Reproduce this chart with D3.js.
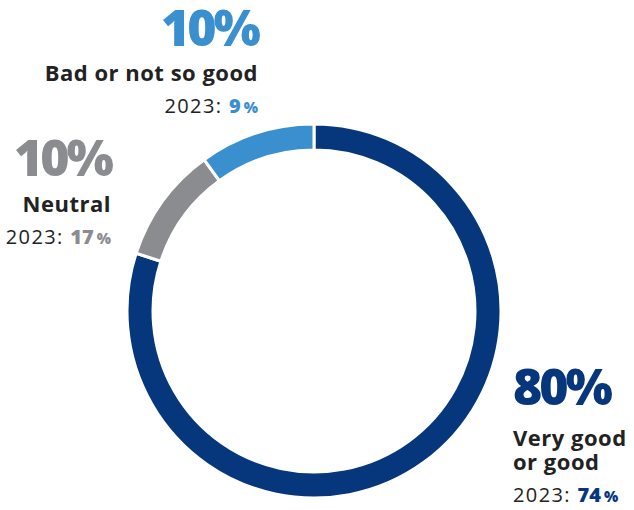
<!DOCTYPE html>
<html>
<head>
<meta charset="utf-8">
<script src="https://cdn.jsdelivr.net/npm/d3@7"></script>
<style>
  html, body { margin: 0; padding: 0; background: #fff; }
  svg { display: block; font-family: "Open Sans", "Noto Sans", sans-serif; }
</style>
</head>
<body>
<svg id="chart" width="634" height="510"></svg>
<script>
// Survey shares (2024) and previous-year shares, in drawing order from 12 o'clock clockwise
const categories = ["Very good or good", "Neutral", "Bad or not so good"];
const shares = [80, 10, 10];
const shares2023 = [74, 17, 9];
const colors = ["#06367b", "#8b8c8f", "#3a8fcf"];

const svg = d3.select("#chart");
const cx = 314, cy = 311, rOuter = 187, rInner = 161;

const pie = d3.pie().sort(null).value(d => d)(shares);
const arc = d3.arc().innerRadius(rInner).outerRadius(rOuter);

svg.append("g")
  .attr("transform", `translate(${cx},${cy})`)
  .selectAll("path")
  .data(pie)
  .join("path")
  .attr("d", arc)
  .attr("fill", (d, i) => colors[i])
  .attr("stroke", "#fff")
  .attr("stroke-width", 3);

// Label blocks: big share, category name (one or two lines), previous-year line.
// Each block is a single text element laid out with tspans.
const labels = [
  { i: 0, x: 513, anchor: "start", y: 405, nameGap: 41, lines: ["Very good", "or good"] },
  { i: 1, x: 111, anchor: "end", y: 176, nameGap: 36, lines: ["Neutral"] },
  { i: 2, x: 258, anchor: "end", y: 46, nameGap: 35, lines: ["Bad or not so good"] }
];

labels.forEach(l => {
  const t = svg.append("text")
    .attr("text-anchor", l.anchor)
    .attr("fill", "#222");
  t.append("tspan")
    .attr("x", l.x).attr("y", l.y)
    .attr("font-size", 50).attr("font-weight", 800)
    .attr("fill", colors[l.i])
    .attr("letter-spacing", -3)
    .text(shares[l.i] + "%");
  let y = l.y + l.nameGap;
  l.lines.forEach((s, k) => {
    t.append("tspan")
      .attr("x", l.x).attr("y", y + k * 24)
      .attr("font-size", 22).attr("font-weight", 700)
      .attr("letter-spacing", 0.5)
      .text(s);
  });
  y += (l.lines.length - 1) * 24 + 32;
  t.append("tspan")
    .attr("x", l.x).attr("y", y)
    .attr("font-size", 20).attr("font-weight", 400)
    .attr("letter-spacing", 1.4)
    .text("2023: ");
  t.append("tspan")
    .attr("font-size", 20).attr("font-weight", 800)
    .attr("fill", colors[l.i])
    .text(shares2023[l.i]);
  t.append("tspan")
    .attr("font-size", 15).attr("font-weight", 800)
    .attr("fill", colors[l.i])
    .attr("dx", 3)
    .text("%");
});
</script>
</body>
</html>
